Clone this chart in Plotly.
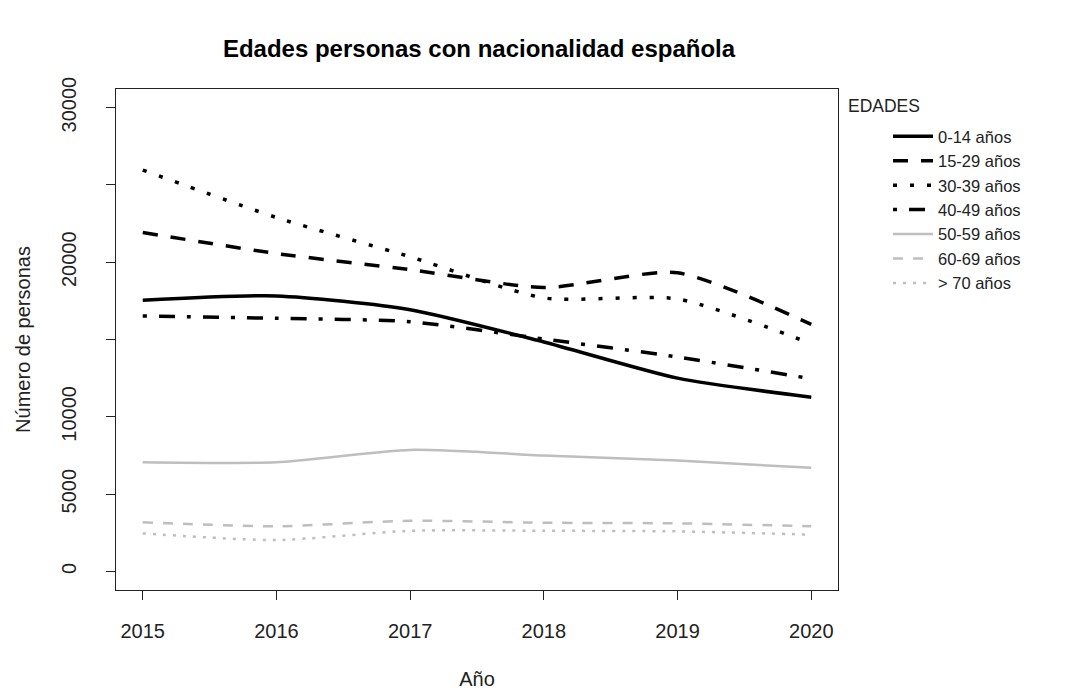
import plotly.graph_objects as go

years = [2015, 2016, 2017, 2018, 2019, 2020]
labels = ["0-14 años", "15-29 años", "30-39 años", "40-49 años",
          "50-59 años", "60-69 años", "> 70 años"]
v_0_14 = [17540, 17820, 16930, 14840, 12500, 11270]
v_15_29 = [21920, 20560, 19520, 18360, 19310, 15980]
v_30_39 = [25960, 22890, 20350, 17690, 17620, 14730]
v_40_49 = [16520, 16370, 16150, 15030, 13870, 12460]
v_50_59 = [7060, 7060, 7860, 7500, 7170, 6700]
v_60_69 = [3180, 2920, 3280, 3150, 3110, 2920]
v_70 = [2460, 2030, 2630, 2630, 2590, 2380]
series = [v_0_14, v_15_29, v_30_39, v_40_49, v_50_59, v_60_69, v_70]

y_ticks = [0, 5000, 10000, 15000, 20000, 25000, 30000]
y_ticktext = ["0", "5000", "10000", "", "20000", "", "30000"]

styles = [
    dict(color="black", width=3.5, dash="solid"),
    dict(color="black", width=3.5, dash="15px,13px"),
    dict(color="black", width=3.5, dash="4px,13px"),
    dict(color="black", width=3.5, dash="4px,12px,16px,12px"),
    dict(color="#bebebe", width=2.5, dash="solid"),
    dict(color="#bebebe", width=2.5, dash="10px,10px"),
    dict(color="#bebebe", width=2.5, dash="3px,7px"),
]

L, R, T, B = 108, 235, 81, 113
W, H = 1065, 695
PW, PH = W - L - R, H - T - B


def px(xp):
    return (xp - L) / PW


def py(yp):
    return (H - B - yp) / PH


font = "Liberation Sans, Arial, sans-serif"
fig = go.Figure()
for name, vals, st in zip(labels, series, styles):
    fig.add_trace(go.Scatter(
        x=years, y=vals, name=name, mode="lines",
        line=dict(shape="spline", smoothing=0.65, **st),
    ))

axis_common = dict(
    showline=True, linecolor="#222", linewidth=1.3, mirror=True,
    ticks="outside", ticklen=9, tickwidth=1.3, tickcolor="#222",
    showgrid=False, zeroline=False, automargin=False,
    tickfont=dict(family=font, size=20, color="#222"),
)
fig.update_xaxes(
    range=[2014.8, 2020.2], tickvals=years, ticktext=[str(y) for y in years],
    ticklabelstandoff=14,
    title=dict(text="Año", font=dict(family=font, size=20, color="#222"), standoff=30),
    **axis_common,
)
fig.update_yaxes(
    range=[-1200, 31200], tickvals=y_ticks, ticktext=y_ticktext, tickangle=-90,
    ticklabelstandoff=22,
    title=dict(text="Número de personas", font=dict(family=font, size=20, color="#222"), standoff=21),
    **axis_common,
)
fig.add_annotation(
    text="EDADES", xref="paper", yref="paper",
    x=px(838), y=py(98), xanchor="left", yanchor="middle",
    showarrow=False, font=dict(family=font, size=17.5, color="#222"),
)
fig.update_layout(
    width=W, height=H,
    margin=dict(l=L, r=R, t=T, b=B),
    paper_bgcolor="white", plot_bgcolor="white",
    title=dict(text="<b>Edades personas con nacionalidad española</b>",
               x=471 / W, xanchor="center", y=1 - 41 / H, yanchor="middle",
               font=dict(family=font, size=24, color="black")),
    legend=dict(
        font=dict(family=font, size=16.5, color="#222"),
        x=px(880), xanchor="left", y=py(111), yanchor="top",
        bgcolor="rgba(0,0,0,0)", borderwidth=0, itemwidth=40,
    ),
    showlegend=True,
)
fig.write_html("out.html")
